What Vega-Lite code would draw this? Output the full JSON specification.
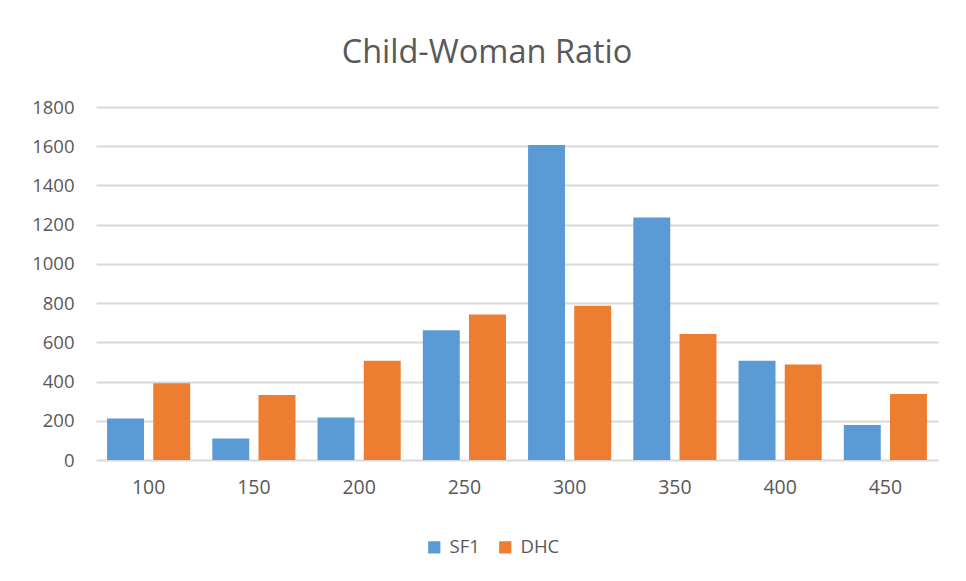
{
  "$schema": "https://vega.github.io/schema/vega-lite/v6.json",
  "width": 842,
  "height": 353,
  "autosize": {"type": "none"},
  "padding": {"left": 96, "top": 107, "right": 28, "bottom": 121},
  "background": "white",
  "title": {
    "text": "Child-Woman Ratio",
    "font": "Open Sans",
    "fontSize": 32.5,
    "fontWeight": "normal",
    "color": "#595959",
    "anchor": "middle",
    "dx": -30,
    "offset": 29
  },
  "data": {
    "values": [
      {"ratio": "100", "source": "SF1", "value": 212},
      {"ratio": "100", "source": "DHC", "value": 391},
      {"ratio": "150", "source": "SF1", "value": 109},
      {"ratio": "150", "source": "DHC", "value": 331},
      {"ratio": "200", "source": "SF1", "value": 217},
      {"ratio": "200", "source": "DHC", "value": 506},
      {"ratio": "250", "source": "SF1", "value": 662},
      {"ratio": "250", "source": "DHC", "value": 742},
      {"ratio": "300", "source": "SF1", "value": 1606},
      {"ratio": "300", "source": "DHC", "value": 786},
      {"ratio": "350", "source": "SF1", "value": 1236},
      {"ratio": "350", "source": "DHC", "value": 643},
      {"ratio": "400", "source": "SF1", "value": 506},
      {"ratio": "400", "source": "DHC", "value": 487},
      {"ratio": "450", "source": "SF1", "value": 178},
      {"ratio": "450", "source": "DHC", "value": 336}
    ]
  },
  "mark": {"type": "bar"},
  "encoding": {
    "x": {
      "field": "ratio",
      "type": "ordinal",
      "sort": null,
      "scale": {"paddingInner": 0.21, "paddingOuter": 0.105},
      "axis": {
        "title": null,
        "labelAngle": 0,
        "labelFont": "Open Sans",
        "labelFontSize": 19.5,
        "labelColor": "#595959",
        "labelPadding": 18,
        "ticks": false,
        "domain": false
      }
    },
    "xOffset": {
      "field": "source",
      "sort": ["SF1", "DHC"],
      "scale": {"paddingInner": 0.2}
    },
    "y": {
      "field": "value",
      "type": "quantitative",
      "scale": {"domain": [0, 1800], "nice": false},
      "axis": {
        "title": null,
        "values": [0, 200, 400, 600, 800, 1000, 1200, 1400, 1600, 1800],
        "format": "d",
        "labelFont": "Open Sans",
        "labelFontSize": 18.5,
        "labelColor": "#595959",
        "labelPadding": 22,
        "ticks": false,
        "domain": false,
        "grid": true,
        "gridColor": "#D9D9D9",
        "gridWidth": 2
      }
    },
    "color": {
      "field": "source",
      "type": "nominal",
      "scale": {"domain": ["SF1", "DHC"], "range": ["#5B9BD5", "#ED7D31"]},
      "legend": {
        "title": null,
        "orient": "none",
        "direction": "horizontal",
        "legendX": 329,
        "legendY": 431,
        "symbolType": "square",
        "symbolSize": 150,
        "symbolStrokeWidth": 0,
        "labelFont": "Open Sans",
        "labelFontSize": 18.5,
        "labelColor": "#595959",
        "labelOffset": 6,
        "columnPadding": 16
      }
    }
  },
  "config": {"view": {"stroke": null}}
}
